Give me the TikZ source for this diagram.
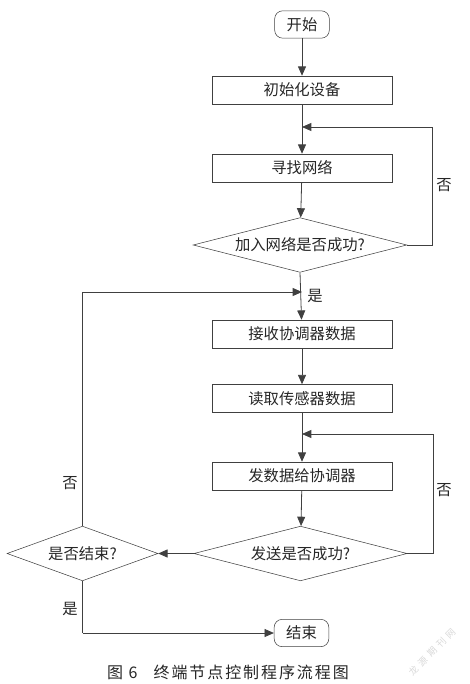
\documentclass[tikz,border=0pt]{standalone}
\usepackage{fontspec}
\setmainfont{Noto Sans CJK SC}
\newfontfamily\capfont[LetterSpace=12]{Noto Sans CJK SC}
\newfontfamily\wmfont[LetterSpace=40]{Noto Sans CJK SC}
\usetikzlibrary{arrows.meta,shapes.geometric}
\begin{document}
\begin{tikzpicture}[x=0.75pt,y=-0.75pt,
  every node/.style={font=\fontsize{11.5pt}{13pt}\selectfont, text=black!85},
  term/.style={draw=black!75, rounded corners=6pt, minimum width=41pt, minimum height=20.5pt, inner sep=0pt},
  proc/.style={draw=black!75, minimum width=135pt, minimum height=21pt, inner sep=0pt},
  dec/.style={draw=black!75, diamond, inner sep=0pt, aspect=#1, minimum width=#1*41pt, minimum height=41pt},
  lbl/.style={font=\fontsize{11.5pt}{13pt}\selectfont},
  arr/.style={draw=black!75, line width=0.6pt, -{Triangle[length=7pt,width=6pt]}},
  ln/.style={draw=black!75, line width=0.6pt}]
\useasboundingbox (0,0) rectangle (469,684);
\node[term] (start) at (302,24.5) {开始};
\node[proc] (init) at (302,90) {初始化设备};
\node[proc] (find) at (302,168) {寻找网络};
\node[dec=3.91] (d1) at (300,245) {加入网络是否成功?};
\node[proc] (recv) at (302,334) {接收协调器数据};
\node[proc] (read) at (302,398.5) {读取传感器数据};
\node[proc] (send) at (302,476) {发数据给协调器};
\node[dec=3.9] (d2) at (300.5,553.5) {发送是否成功?};
\node[dec=2.76] (d3) at (82.5,553.5) {是否结束?};
\node[term] (end) at (301.5,633) {结束};

\coordinate (j1) at (302,127);
\coordinate (j2) at (302,292);
\coordinate (j3) at (302,434);
\coordinate (r1) at (432,245);
\coordinate (r1t) at (432,127);
\coordinate (r2) at (433,553.5);
\coordinate (r2t) at (433,434);
\coordinate (l1) at (82.5,292);
\coordinate (l2) at (82.5,633);

\draw[arr] (start) -- (init);
\draw[arr] (init) -- (find);
\draw[arr] (find) -- (d1);
\draw[arr] (d1.south) -- (recv);
\draw[arr] (recv) -- (read);
\draw[arr] (read) -- (send);
\draw[arr] (send) -- (d2);
\draw[arr] (d2.west) -- (d3.east);
\draw[ln] (d1.east) -- (r1) -- (r1t);
\draw[arr] (r1t) -- (j1);
\draw[ln] (d2.east) -- (r2) -- (r2t);
\draw[arr] (r2t) -- (j3);
\draw[ln] (d3.north) -- (l1);
\draw[arr] (l1) -- (j2);
\draw[ln] (d3.south) -- (l2);
\draw[arr] (l2) -- (end.west);

\node[lbl] (n1) at (444,185) {否};
\node[lbl] (y1) at (315,296) {是};
\node[lbl] (n2) at (70,483) {否};
\node[lbl] (n3) at (444,490) {否};
\node[lbl] (y2) at (70,609) {是};

\node (cap) at (228,672) {\capfont\fontsize{12pt}{14pt}\selectfont 图 6\quad 终端节点控制程序流程图};
\node[rotate=45, text=black!15, font=\fontsize{7pt}{8pt}\selectfont] (wm) at (432,652) {\wmfont 龙源期刊网};
\end{tikzpicture}
\end{document}
